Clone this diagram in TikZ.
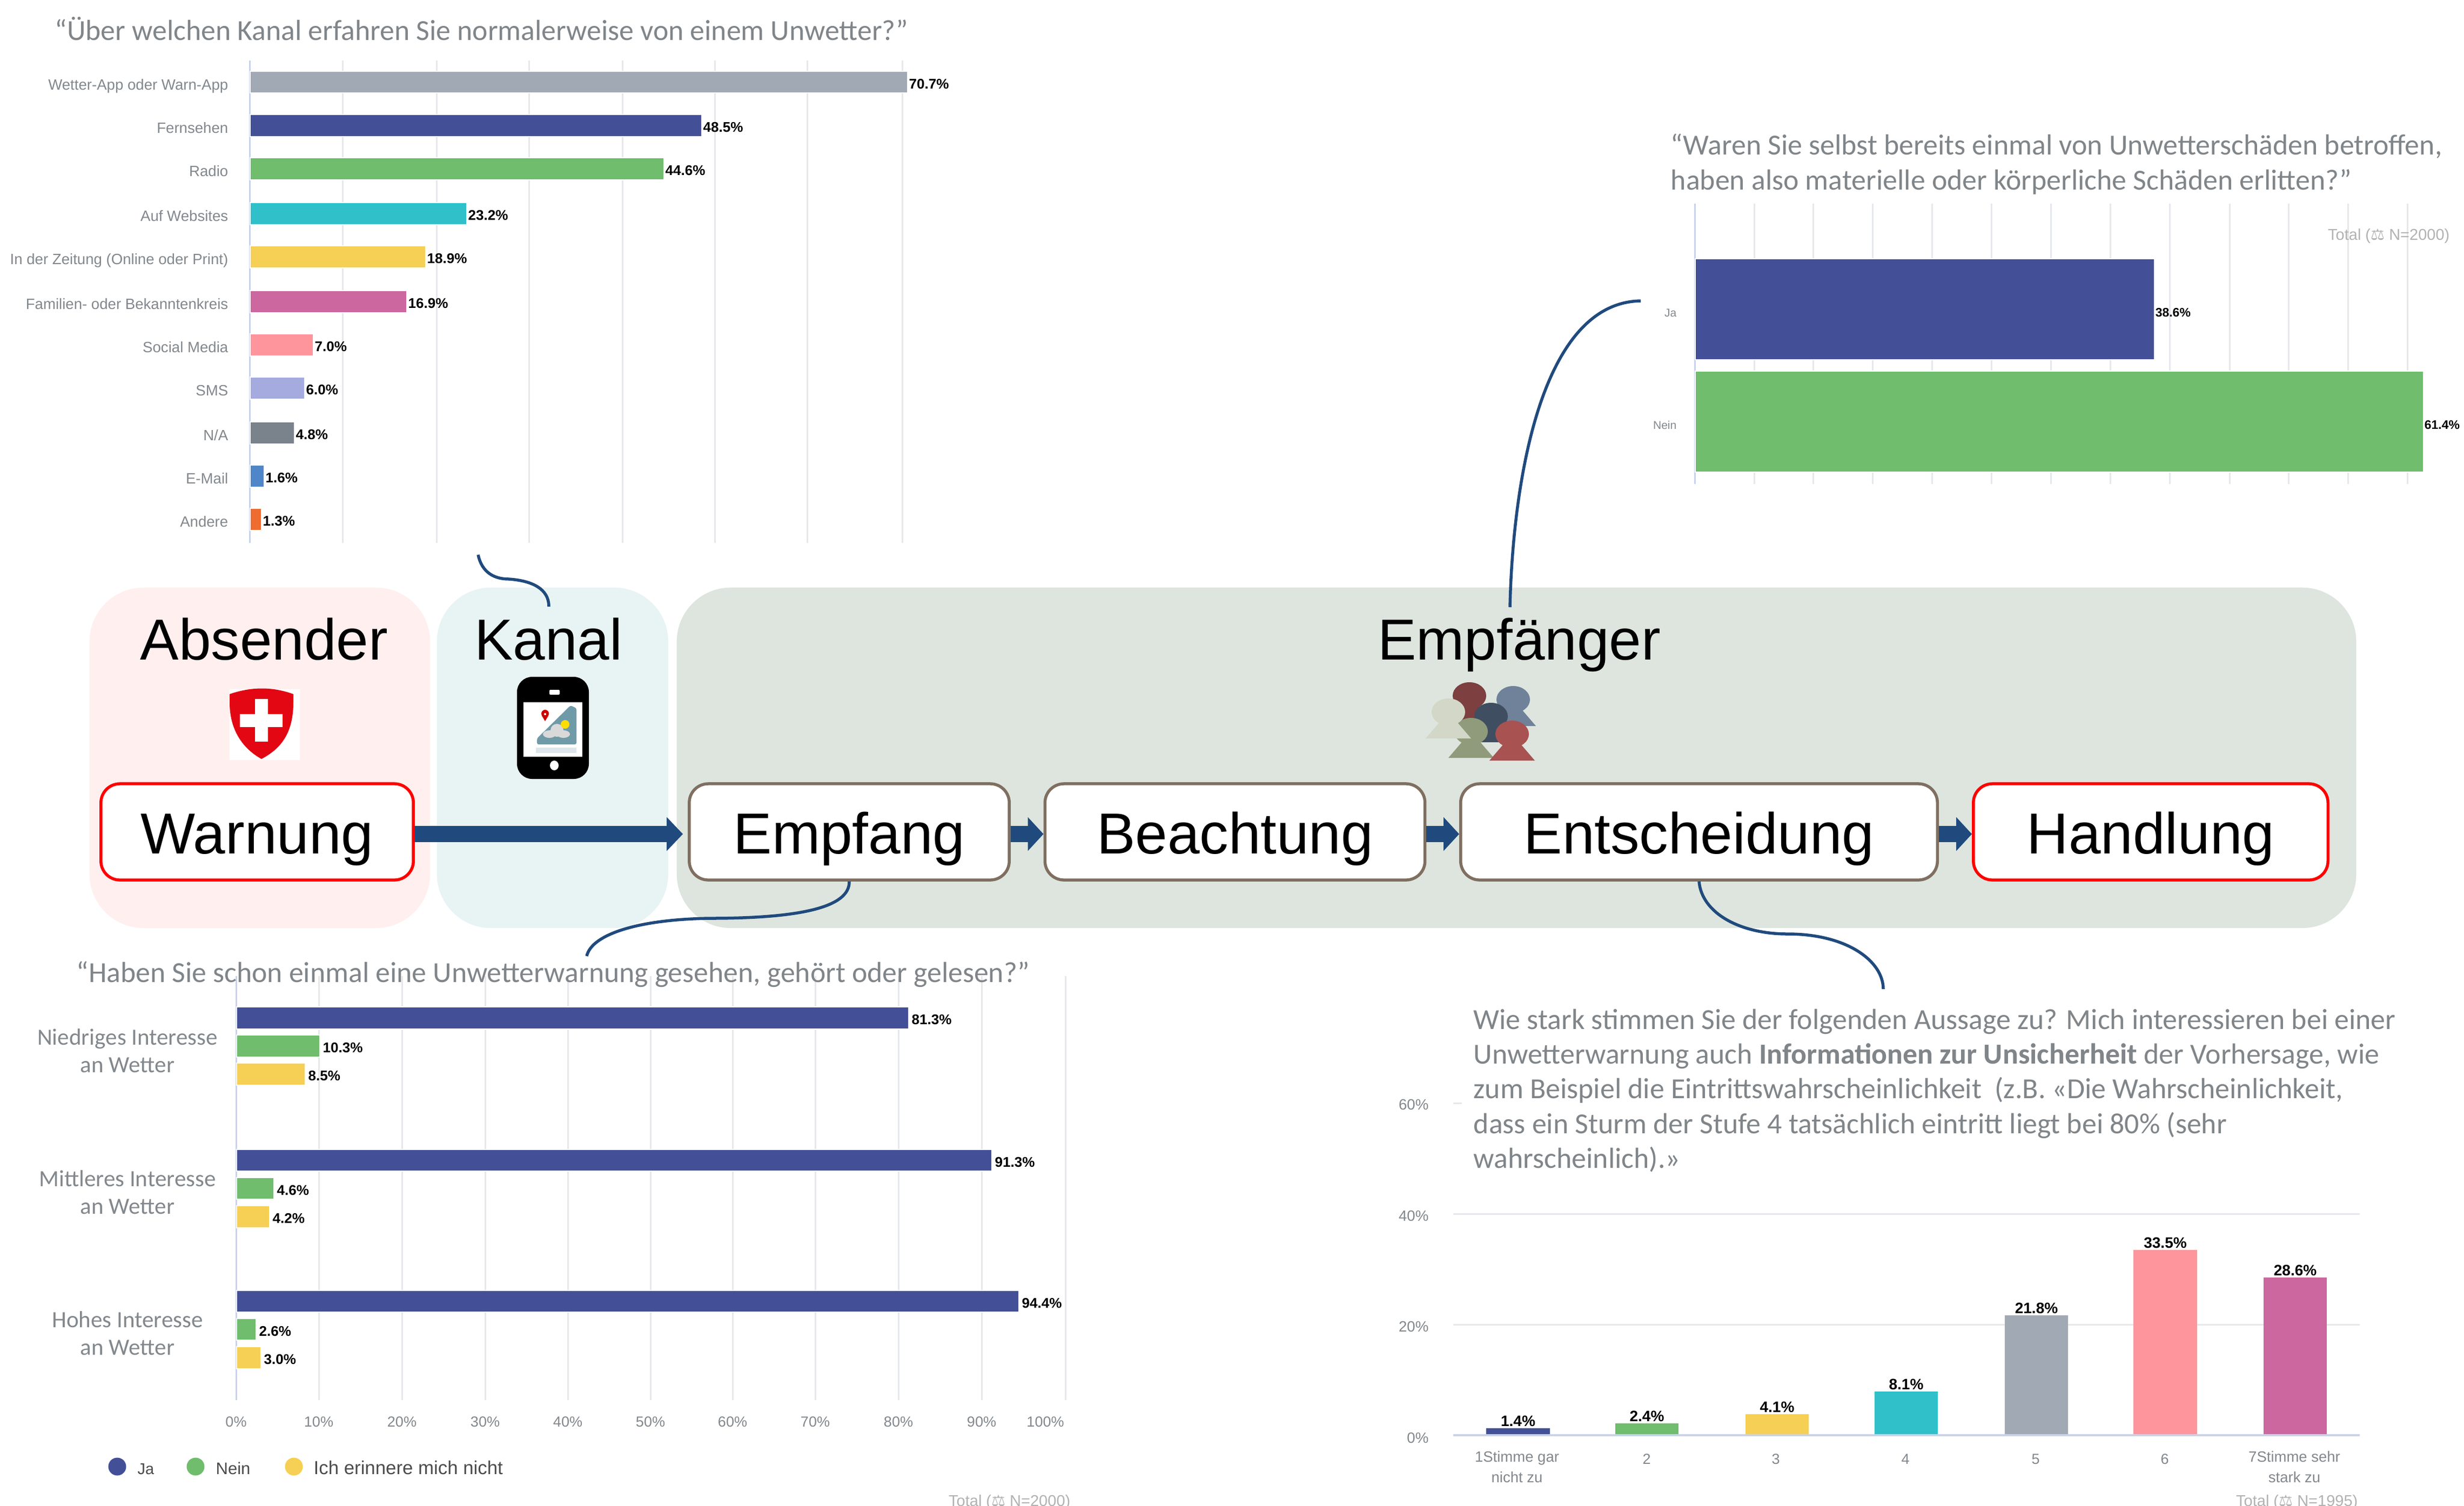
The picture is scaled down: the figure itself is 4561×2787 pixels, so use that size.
\documentclass[tikz,border=0pt]{standalone}
\usepackage{fontspec}
\setmainfont{Liberation Sans}
\newfontfamily\carlito{Carlito}
\newfontfamily\djv{DejaVu Sans}
\usetikzlibrary{arrows.meta}
\newcommand{\pxf}[1]{\fontsize{\the\dimexpr #1pt*2845/10000\relax}{\the\dimexpr #1pt*3400/10000\relax}\selectfont}
\newcommand{\pxfl}[2]{\fontsize{\the\dimexpr #1pt*2845/10000\relax}{\the\dimexpr #2pt*2845/10000\relax}\selectfont}
\definecolor{cgray}{HTML}{A1A9B4}
\definecolor{cnavy}{HTML}{435098}
\definecolor{cgreen}{HTML}{6FBD6D}
\definecolor{cteal}{HTML}{2FC0C9}
\definecolor{cyellow}{HTML}{F6CF55}
\definecolor{cpink}{HTML}{CC689F}
\definecolor{csalmon}{HTML}{FF959C}
\definecolor{clav}{HTML}{A5ABDF}
\definecolor{cslate}{HTML}{7A828C}
\definecolor{cblue}{HTML}{4F86C9}
\definecolor{corange}{HTML}{EF6C30}
\definecolor{cflow}{HTML}{204A7D}
\definecolor{cgrid}{HTML}{E6E8EC}
\definecolor{caxis}{HTML}{C9D3EA}
\definecolor{ctitle}{HTML}{808589}
\definecolor{clabel}{HTML}{83888D}
\definecolor{cbrown}{HTML}{7F6F60}
\definecolor{cpanelr}{HTML}{FFF0EF}
\definecolor{cpanelk}{HTML}{E8F4F4}
\definecolor{cpanele}{HTML}{DDE5DE}
\definecolor{cshield}{HTML}{E30613}
\definecolor{cscreen}{HTML}{6F9AA8}
\definecolor{cscreenb}{HTML}{DDE6EA}
\tikzset{
  px/.style={x=0.01cm,y=-0.01cm},
  panel/.style={rounded corners=1cm,inner sep=0pt,minimum height=6.30cm,anchor=north west},
  headtxt/.style={font=\pxf{107},anchor=base,inner sep=0pt,text=black},
  stepbox/.style={draw=cbrown,line width=0.055cm,fill=white,rounded corners=0.35cm,minimum height=1.78cm,
     inner sep=0pt,font=\pxf{107},text=black,text height=1cm,text depth=0.2cm},
  redbox/.style={stepbox,draw=red},
  flow/.style={line width=0.30cm,draw=cflow,-{Triangle[length=0.30cm,width=0.61cm]}},
  flowsmall/.style={line width=0.30cm,draw=cflow,-{Triangle[length=0.29cm,width=0.61cm]}},
  link/.style={draw=cflow,line width=0.055cm},
  gridl/.style={draw=cgrid,line width=0.03cm},
  axisl/.style={draw=caxis,line width=0.03cm},
  qtitle/.style={font=\carlito\pxf{53.7},text=ctitle,anchor=base west,inner sep=0pt},
  catlab/.style={font=\pxf{27.6},text=clabel,anchor=mid east,inner sep=0pt},
  vallab/.style={font=\bfseries\pxf{26},text=black,anchor=mid west,inner sep=0pt},
  axlab/.style={font=\pxf{27},text=clabel,anchor=mid,inner sep=0pt},
  rowlab/.style={font=\carlito\pxf{43},text=clabel,anchor=base,inner sep=0pt},
  totlab/.style={font=\pxf{29},text=black!30,anchor=mid east,inner sep=0pt},
  leglab/.style={text=black!70,anchor=mid west,inner sep=0pt},
  barbox/.style={draw=white,line width=0.012cm},
}
\newcommand{\person}[4]{\begin{scope}[shift={(#1,#2)}]
  \fill[#3] (-42,#4) -- (0,0) -- (42,#4) -- cycle;
  \fill[#3] (0,0) ellipse [x radius=0.31cm,y radius=0.25cm];
\end{scope}}
\begin{document}
\begin{tikzpicture}[px]
\useasboundingbox (0,0) rectangle (4561,2787);
\fill[white] (0,0) rectangle (4561,2787);

% ---------- chart 1
\node[qtitle] (t1) at (101,74) {“Über welchen Kanal erfahren Sie normalerweise von einem Unwetter?”};
\foreach \gx in {634,808,979,1152,1323,1494,1670} \draw[gridl] (\gx,112) -- (\gx,1005);
\draw[axisl] (462,112) -- (462,1005);
\foreach \lab/\ya/\yb/\xe/\col/\val [count=\i] in {
  Wetter-App oder Warn-App/132/172/1680/cgray/70.7\%,
  Fernsehen/212/253/1299/cnavy/48.5\%,
  Radio/292/333/1229/cgreen/44.6\%,
  Auf Websites/375/416/864/cteal/23.2\%,
  In der Zeitung (Online oder Print)/455/496/788/cyellow/18.9\%,
  Familien- oder Bekanntenkreis/538/579/753/cpink/16.9\%,
  Social Media/618/659/580/csalmon/7.0\%,
  SMS/698/739/564/clav/6.0\%,
  {N/A}/781/822/545/cslate/4.8\%,
  E-Mail/861/902/489/cblue/1.6\%,
  Andere/941/982/484/corange/1.3\%}{
  \fill[\col,barbox] (463,\ya) rectangle (\xe,\yb);
  \node[catlab] (ca\i) at (423,{(\ya+\yb)/2+5}) {\lab};
  \node[vallab] (va\i) at (\xe+2,{(\ya+\yb)/2+3}) {\val};
}

% ---------- chart 2
\node[qtitle,align=left,anchor=north west,font=\carlito\pxfl{53.8}{65}] (t2) at (3092,247)
  {“Waren Sie selbst bereits einmal von Unwetterschäden betroffen,\\haben also materielle oder körperliche Schäden erlitten?”};
\foreach \gx in {3247,3356,3466,3576,3686,3796,3906,4016,4127,4236,4346,4456} \draw[gridl] (\gx,377) -- (\gx,896);
\draw[axisl] (3137,377) -- (3137,896);
\node[totlab] (tot2) at (4535,435) {Total ({\djv ⚖} N=2000)};
\fill[cnavy,barbox] (3138,479) rectangle (3988,666);
\fill[cgreen,barbox] (3138,687) rectangle (4486,874);
\node[catlab,font=\pxf{21}] (c2a) at (3104,577) {Ja};
\node[catlab,font=\pxf{21}] (c2b) at (3104,785) {Nein};
\node[vallab,font=\bfseries\pxf{23}] (v2a) at (3989,577) {38.6\%};
\node[vallab,font=\bfseries\pxf{23}] (v2b) at (4487,785) {61.4\%};

% ---------- chart 3
\foreach \gx in {590,744,898,1051,1204,1356,1509,1663,1817,1972} \draw[gridl] (\gx,1807) -- (\gx,2592);
\draw[axisl] (437,1807) -- (437,2592);
\node[qtitle] (t3) at (141,1818) {“Haben Sie schon einmal eine Unwetterwarnung gesehen, gehört oder gelesen?”};
\foreach \ya/\yb/\xe/\col/\val [count=\i] in {
  1864/1905/1682/cnavy/81.3\%, 1916/1957/592/cgreen/10.3\%, 1968/2009/565/cyellow/8.5\%,
  2128/2168/1836/cnavy/91.3\%, 2180/2220/507/cgreen/4.6\%, 2232/2273/499/cyellow/4.2\%,
  2389/2429/1886/cnavy/94.4\%, 2441/2481/474/cgreen/2.6\%, 2493/2534/483/cyellow/3.0\%}{
  \fill[\col,barbox] (438,\ya) rectangle (\xe,\yb);
  \node[vallab] (vb\i) at (\xe+5,{(\ya+\yb)/2+3}) {\val};
}
\node[rowlab] (r1a) at (236,1934) {Niedriges Interesse};
\node[rowlab] (r1b) at (236,1985) {an Wetter};
\node[rowlab] (r2a) at (236,2196) {Mittleres Interesse};
\node[rowlab] (r2b) at (236,2247) {an Wetter};
\node[rowlab] (r3a) at (236,2457) {Hohes Interesse};
\node[rowlab] (r3b) at (236,2508) {an Wetter};
\foreach \gx/\t [count=\i] in {437/0,590/10,744/20,898/30,1051/40,1204/50,1356/60,1509/70,1663/80,1817/90,1935/100}
  \node[axlab] (ax\i) at (\gx,2632) {\t\%};
\fill[cnavy] (217,2715) circle (0.165cm);
\fill[cgreen] (362,2715) circle (0.165cm);
\fill[cyellow] (544,2715) circle (0.165cm);
\node[leglab,font=\pxf{29}] (l1) at (254,2720) {Ja};
\node[leglab,font=\pxf{31}] (l2) at (399,2720) {Nein};
\node[leglab,font=\pxf{34.8}] (l3) at (580,2720) {Ich erinnere mich nicht};
\node[totlab] (tot3) at (1982,2779) {Total ({\djv ⚖} N=2000)};

% ---------- chart 4
\draw[gridl] (2690,2042) -- (2706,2042);
\draw[gridl] (2690,2247) -- (4368,2247);
\draw[gridl] (2690,2452) -- (4368,2452);
\foreach \yy/\t [count=\i] in {2045/60,2251/40,2456/20,2662/0}
  \node[catlab] (yl\i) at (2645,\yy) {\t\%};
\foreach \xa/\xb/\yt/\col/\val [count=\i] in {
  2751/2869/2644/cnavy/1.4\%, 2990/3107/2635/cgreen/2.4\%, 3231/3348/2618/cyellow/4.1\%,
  3470/3587/2576/cteal/8.1\%, 3711/3828/2435/cgray/21.8\%, 3949/4067/2314/csalmon/33.5\%,
  4190/4307/2365/cpink/28.6\%}{
  \fill[\col] (\xa,\yt) rectangle (\xb,2657);
  \node[vallab,anchor=mid,font=\bfseries\pxf{28}] (vc\i) at ({(\xa+\xb)/2},\yt-13) {\val};
}
\draw[draw=caxis,line width=0.04cm] (2690,2657) -- (4368,2657);
\foreach \gx/\t [count=\i] in {3048/2,3287/3,3527/4,3768/5,4007/6}
  \node[axlab] (xl\i) at (\gx,2701) {\t};
\node[axlab,align=center,font=\pxfl{27.5}{38},anchor=north] (xl7) at (2808,2686) {1Stimme gar\\nicht zu};
\node[axlab,align=center,font=\pxfl{27.5}{38},anchor=north] (xl8) at (4247,2686) {7Stimme sehr\\stark zu};
\node[totlab] (tot4) at (4365,2779) {Total ({\djv ⚖} N=1995)};
\node[qtitle,align=left,anchor=north west,font=\carlito\pxfl{53.8}{64.4}] (t4) at (2727,1867)
  {Wie stark stimmen Sie der folgenden Aussage zu? Mich interessieren bei einer\\
   Unwetterwarnung auch {\bfseries Informationen zur Unsicherheit} der Vorhersage, wie\\
   zum Beispiel die Eintrittswahrscheinlichkeit\ \ (z.B. «Die Wahrscheinlichkeit,\\
   dass ein Sturm der Stufe 4 tatsächlich eintritt liegt bei 80\% (sehr\\
   wahrscheinlich).»};

% ---------- panels
\node[panel,fill=cpanelr,minimum width=6.30cm] (pabs) at (165,1087) {};
\node[panel,fill=cpanelk,minimum width=4.28cm] (pkan) at (808,1087) {};
\node[panel,fill=cpanele,minimum width=31.07cm] (pemp) at (1252,1087) {};
\node[headtxt] (habs) at (489,1221) {Absender};
\node[headtxt] (hkan) at (1015,1221) {Kanal};
\node[headtxt] (hemp) at (2812,1221) {Empfänger};

% shield
\fill[white] (425,1276) rectangle (555,1407);
\fill[cshield] (425,1285) .. controls (465,1271) and (505,1271) .. (543,1285)
  -- (543,1300) .. controls (543,1355) and (522,1385) .. (484,1405) .. controls (448,1385) and (425,1350) .. (425,1300) -- cycle;
\fill[white] (472,1294) rectangle (496,1373);
\fill[white] (444,1322) rectangle (523,1346);

% phone
\fill[black,rounded corners=0.28cm] (957,1253) rectangle (1090,1442);
\fill[white] (969,1300) rectangle (1078,1401);
\fill[white,rounded corners=0.02cm] (1017,1277) rectangle (1036,1286);
\fill[white] (1026,1417) ellipse [x radius=0.08cm,y radius=0.09cm];
\fill[cscreen,rounded corners=0.03cm] (994,1367) -- (1056,1306) -- (1067,1311) -- (1067,1378) -- (994,1378) -- cycle;
\fill[cscreenb] (992,1384) rectangle (1067,1394);
\fill[red!80!black] (1009,1321) circle (0.07cm);
\fill[red!80!black] (1003,1325) -- (1015,1325) -- (1009,1335) -- cycle;
\fill[white] (1009,1322) circle (0.02cm);
\fill[black!15] (1031,1352) circle (0.12cm);
\fill[black!15] (1017,1359) ellipse [x radius=0.12cm,y radius=0.07cm];
\fill[black!15] (1043,1359) ellipse [x radius=0.12cm,y radius=0.07cm];
\fill[yellow!80!orange] (1046,1341) circle (0.08cm);

% people
\definecolor{pr}{HTML}{7D3F3F}\definecolor{pb}{HTML}{6F8299}\definecolor{pn}{HTML}{3F4E60}
\definecolor{pg}{HTML}{8F9B7A}\definecolor{pp}{HTML}{D2D7C8}\definecolor{pd}{HTML}{A85252}
\person{2720}{1288}{pr}{49}
\person{2801}{1295}{pb}{49}
\person{2760}{1326}{pn}{48}
\person{2723}{1354}{pg}{49}
\person{2681}{1318}{pp}{49}
\person{2799}{1359}{pd}{49}

% process
\node[redbox,minimum width=5.78cm] (warnung) at (476,1540) {Warnung};
\node[stepbox,minimum width=5.92cm] (empfang) at (1572,1540) {Empfang};
\node[stepbox,minimum width=7.03cm] (beachtung) at (2286,1540) {Beachtung};
\node[stepbox,minimum width=8.82cm] (entscheidung) at (3145,1540) {Entscheidung};
\node[redbox,minimum width=6.56cm] (handlung) at (3981,1540) {Handlung};
\draw[flow,shorten >=0.09cm] ([yshift=-0.04cm]warnung.east) -- ([yshift=-0.04cm]empfang.west);
\draw[flowsmall] ([yshift=-0.04cm]empfang.east) -- ([yshift=-0.04cm]beachtung.west);
\draw[flowsmall] ([yshift=-0.04cm]beachtung.east) -- ([yshift=-0.04cm]entscheidung.west);
\draw[flowsmall] ([yshift=-0.04cm]entscheidung.east) -- ([yshift=-0.04cm]handlung.west);

% links
\coordinate (k0) at (885,1027);
\coordinate (k1) at (1016,1123);
\draw[link] (k0) .. controls (892,1060) and (915,1072) .. (942,1072) .. controls (985,1075) and (1016,1090) .. (k1);
\coordinate (e0) at (2795,1124);
\coordinate (e1) at (3037,557);
\draw[link] (e0) .. controls (2800,900) and (2850,560) .. (e1);
\coordinate (f1) at (1086,1770);
\draw[link] (empfang.south) .. controls (1573,1680) and (1480,1700) .. (1314,1700) .. controls (1180,1702) and (1095,1730) .. (f1);
\coordinate (g1) at (3486,1831);
\draw[link] (entscheidung.south) .. controls (3150,1690) and (3220,1729) .. (3309,1729) .. controls (3420,1729) and (3486,1780) .. (g1);
\end{tikzpicture}
\end{document}
